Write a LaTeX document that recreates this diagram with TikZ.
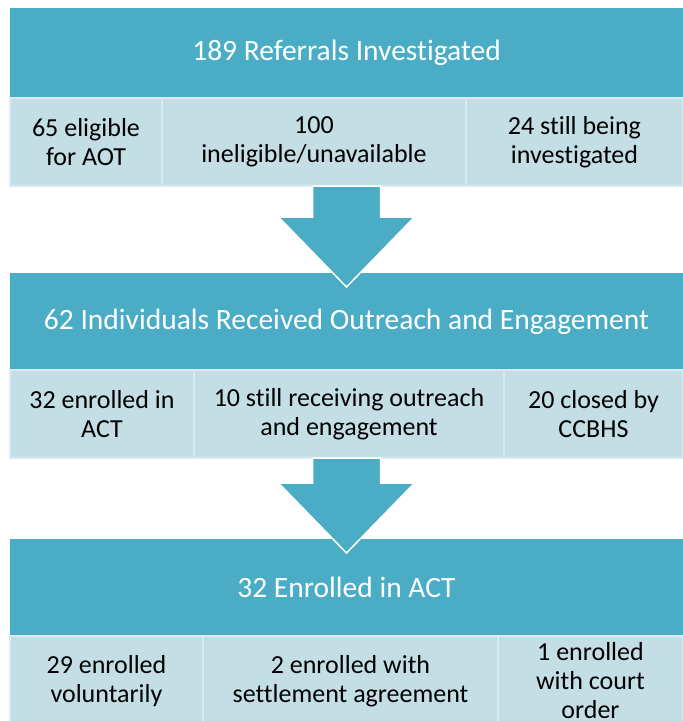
\documentclass[tikz,border=0pt]{standalone}
\usepackage{fontspec}
\setmainfont{Carlito}[Ligatures={NoCommon}]
\usetikzlibrary{positioning,calc}

\definecolor{headblue}{HTML}{4BACC6}
\definecolor{cellblue}{HTML}{C4DEE6}
\definecolor{cellline}{HTML}{DAEAF0}

\begin{document}
\begin{tikzpicture}[
	x = 1pt, y = -1pt, % work in points, top down
	node distance = 0pt, % cells sit flush
	H/.style={rectangle, fill=headblue, text=white, inner sep=0pt, outer sep=0pt, minimum width=673pt, font=\fontsize{29.5}{34}\selectfont},
	C/.style={rectangle, fill=cellblue, draw=cellline, line width=1.5pt, inner sep=0pt, outer sep=0pt, minimum height=88pt, align=center, font=\fontsize{26}{29}\selectfont},
	A/.style={fill=headblue, draw=white, line width=1.5pt, % block arrow, stem 68 wide, head 136 wide
		to path={let \p1=(\tikztostart), \p2=(\tikztotarget) in
			(\x1-34pt,\y1) -- (\x1+34pt,\y1) -- (\x1+34pt,\y2+56pt) -- (\x1+68pt,\y2+56pt)
			-- (\x1,\y2-14pt) -- (\x1-68pt,\y2+56pt) -- (\x1-34pt,\y2+56pt) -- cycle}},
	]
	\useasboundingbox (0,0) rectangle (683,721);

	% Nodes and their relative positions
	\node[H, minimum height=90pt] (H1) at (346.5,53) {189 Referrals Investigated};
	\node[C, minimum width=152pt, below right=0pt and 0pt of H1.south west] (L1) {65 eligible\\for AOT};
	\node[C, minimum width=304pt, right=of L1] (M1) {100\\ineligible/unavailable};
	\node[C, minimum width=217pt, right=of M1] (R1) {24 still being\\investigated};

	\node[H, minimum height=97pt, below=175pt of H1] (H2) {62 Individuals Received Outreach and Engagement};
	\node[C, minimum width=184pt, below right=0pt and 0pt of H2.south west] (L2) {32 enrolled in\\ACT};
	\node[C, minimum width=310pt, right=of L2] (M2) {10 still receiving outreach\\and engagement};
	\node[C, minimum width=179pt, right=of M2] (R2) {20 closed by\\CCBHS};

	\node[H, minimum height=97pt, below=169pt of H2] (H3) {32 Enrolled in ACT};
	\node[C, minimum width=193pt, minimum height=90pt, below right=0pt and 0pt of H3.south west] (L3) {29 enrolled\\voluntarily};
	\node[C, minimum width=295pt, minimum height=90pt, right=of L3] (M3) {2 enrolled with\\settlement agreement};
	\node[C, minimum width=185pt, minimum height=90pt, right=of M3] (R3) {1 enrolled\\with court\\order};

	% Block arrows between the stages
	\path[A] (M1.south -| H2.north) to (H2.north);
	\path[A] (M2.south -| H3.north) to (H3.north);

\end{tikzpicture}
\end{document}
